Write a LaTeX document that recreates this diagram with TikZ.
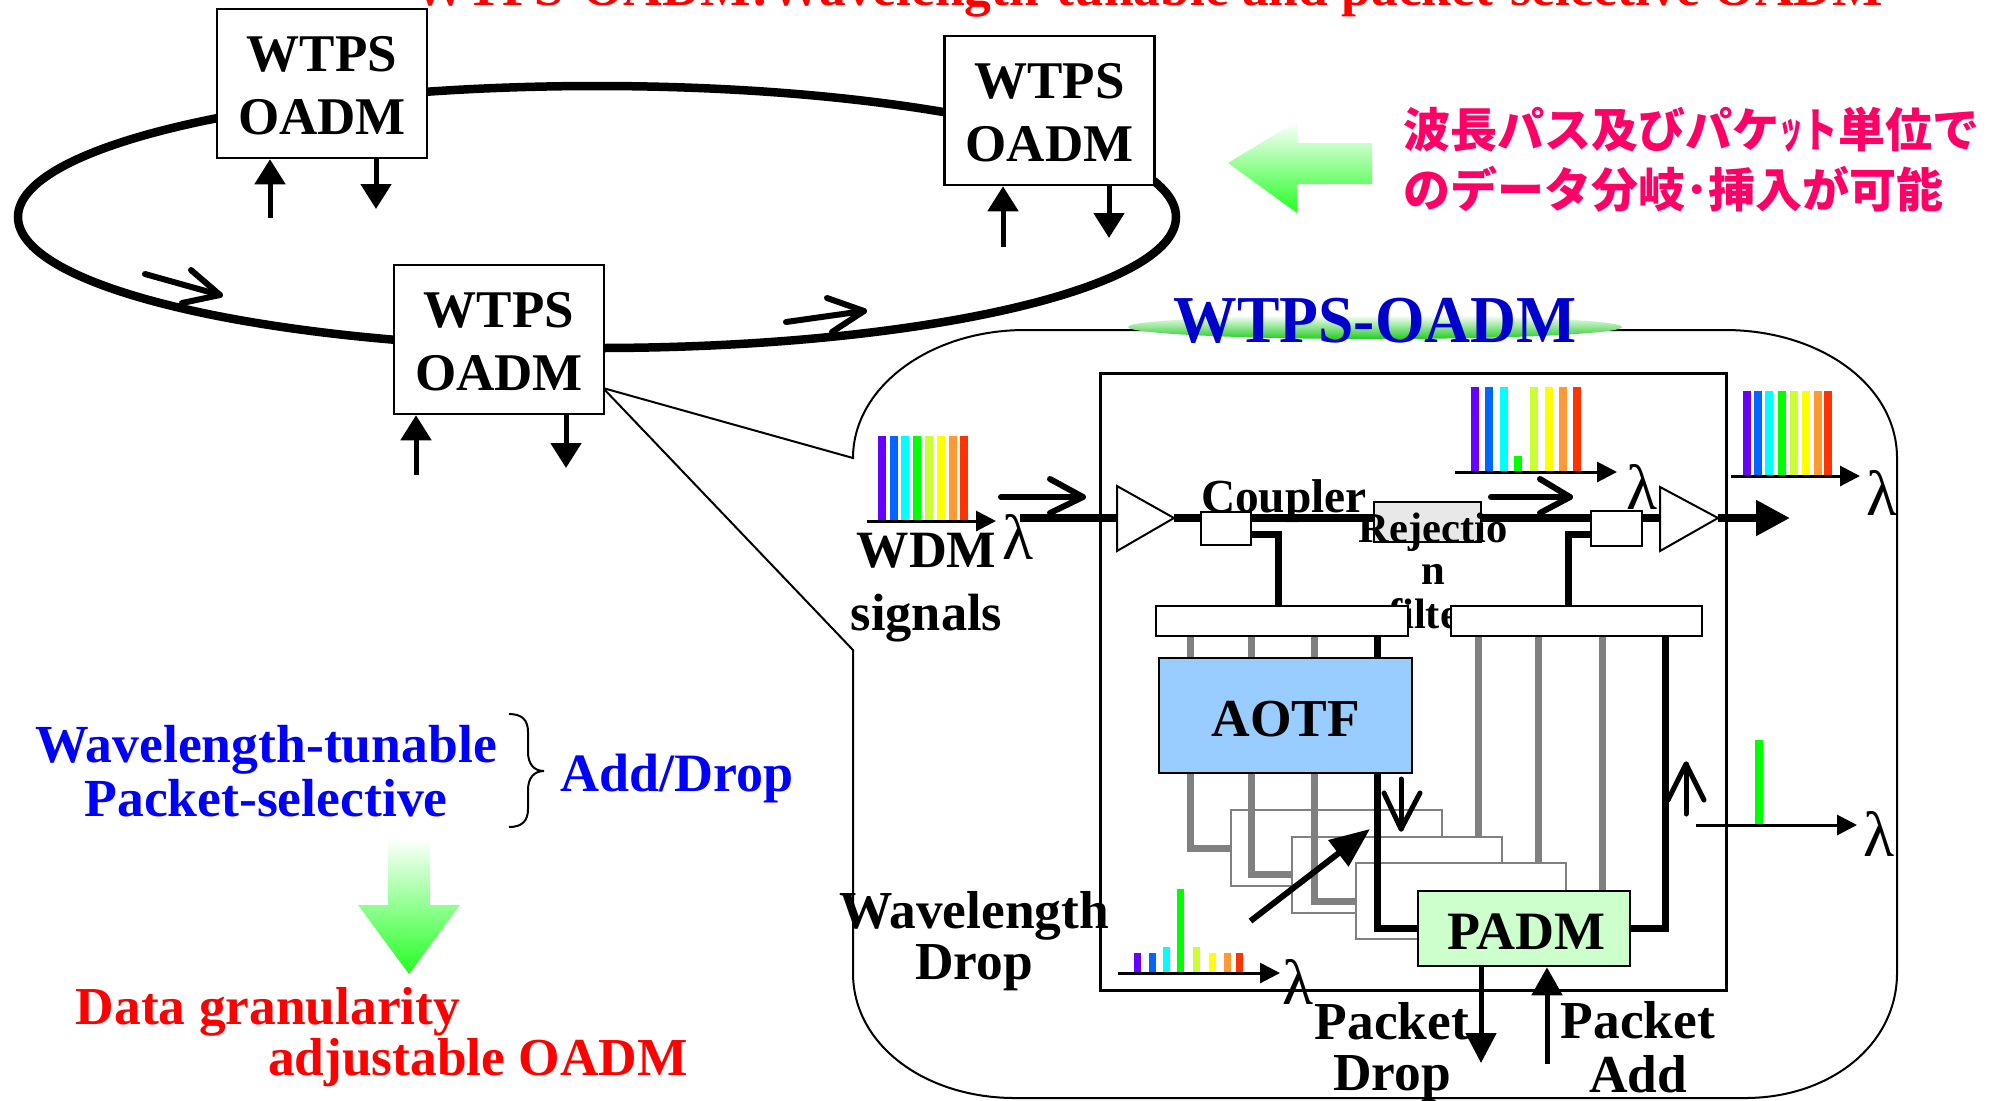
\documentclass[tikz,border=0pt]{standalone}
\usepackage{fontspec}
\usepackage{graphicx}
\setmainfont{Liberation Serif}
\newfontfamily\jpfont{Noto Sans CJK JP}
\usetikzlibrary{arrows.meta,shapes.geometric}
\definecolor{cA}{HTML}{6600FF}\definecolor{cB}{HTML}{0066FF}\definecolor{cC}{HTML}{00FFFF}\definecolor{cD}{HTML}{00FF00}
\definecolor{cE}{HTML}{CCFF33}\definecolor{cF}{HTML}{FFFF00}\definecolor{cG}{HTML}{FF9933}\definecolor{cH}{HTML}{FF3300}
\definecolor{aotfblue}{HTML}{99CCFF}\definecolor{padmgreen}{HTML}{CCFFCC}\definecolor{jppink}{HTML}{FF0066}
\definecolor{rejgray}{HTML}{E8E8E8}\definecolor{pathgray}{HTML}{808080}\definecolor{titleblue}{HTML}{0000CC}
\definecolor{gradgreen}{HTML}{22FF22}\definecolor{pillgreen}{HTML}{22CC22}
\newcommand{\rsfs}[2]{\bfseries\fontsize{#1}{#2}\selectfont}
\newcommand{\rsbx}[6]{\pgfmathsetmacro{\rsbw}{(#4-#2)*0.5}\pgfmathsetmacro{\rsbh}{(#5-#3)*0.5}%
 \node[#6,minimum width=\rsbw pt,minimum height=\rsbh pt] (#1) at ({(#2+#4)/2},{(#3+#5)/2}) {};}
\newcommand{\rsoadm}[3]{\node[oadmbox] (#1) at (#2,#3) {\begin{tabular}{@{}c@{}}\rule{0pt}{28.45pt}WTPS\\\strut OADM\end{tabular}};}
\newcommand{\rsbar}[4]{\fill[#4] ({#1-4},#2) rectangle ({#1+4},#3);}
\newcommand{\rsopen}[9]{\coordinate (#1s) at (#2,#3);\coordinate (#1t) at (#4,#5);\coordinate (#1a) at (#6,#7);\coordinate (#1b) at (#8,#9);
 \draw[openarrow] (#1s) -- (#1t); \draw[openarrow] (#1a) -- (#1t) -- (#1b);}
\tikzset{
 x=0.5pt,y=-0.5pt,
 oadmbox/.style={draw=black,line width=1.25pt,fill=white,minimum width=105pt,minimum height=74.5pt,inner sep=0pt,font=\rsfs{26.5}{31.5}},
 ring/.style={line width=4.25pt,draw=black},
 smallarr/.style={line width=2.5pt,-{Triangle[length=12.5pt,width=15pt]}},
 openarrow/.style={line width=3pt,line cap=round,line join=round},
 thinarrow/.style={line width=2.5pt,line cap=round,line join=round},
 thinline/.style={line width=1pt,draw=black},
 fiber/.style={line width=4pt,draw=black},
 graypath/.style={line width=3.5pt,draw=pathgray,line join=miter},
 blackpath/.style={line width=3.5pt,draw=black,line join=miter},
 plainbox/.style={draw=black,line width=1.25pt,fill=white,inner sep=0pt},
 stackbox/.style={draw=pathgray,line width=1.25pt,fill=white,inner sep=0pt},
 axisarr/.style={line width=1.5pt,-{Triangle[length=10pt,width=10pt]}},
 lab/.style={inner sep=0pt,align=center},
 lam/.style={inner sep=0pt,font=\fontsize{32}{36}\selectfont},
 ampshape/.style={draw=black,line width=1pt,fill=white,line join=miter},
}
\begin{document}
\begin{tikzpicture}
\useasboundingbox (0,0) rectangle (2006,1100);
\fill[white] (0,0) rectangle (2006,1100);
% title
\node[lab,anchor=base,text=red,font=\rsfs{26.7}{30}] (title) at (1148,5) {WTPS-OADM:Wavelength-tunable and packet-selective OADM};
% ring
\draw[ring] (597,217) ellipse [x radius=579,y radius=131];
% callout outline
\coordinate (zoomfrom) at (603,388);
\draw[thinline] (zoomfrom) -- (853,458) .. controls (853,387) and (930,330) .. (1025,330) -- (1725,330)
 .. controls (1820,330) and (1897,385) .. (1897,458) -- (1897,973) .. controls (1897,1045) and (1830,1098) .. (1745,1098)
 -- (1015,1098) .. controls (925,1098) and (853,1045) .. (853,973) -- (853,650) -- (zoomfrom);
% OADM boxes
\rsoadm{oa}{322}{83.5}
\rsoadm{ob}{1049.5}{110.5}
\rsoadm{oc}{499}{339.5}
\coordinate (oain) at (270,218);\coordinate (oaout) at (376,209);
\coordinate (obin) at (1003,247);\coordinate (obout) at (1109,238);
\coordinate (ocin) at (416,475);\coordinate (ocout) at (566,468);
\draw[smallarr] (oain) -- (oain |- oa.south);
\draw[smallarr] (oaout |- oa.south) -- (oaout);
\draw[smallarr] (obin) -- (obin |- ob.south);
\draw[smallarr] (obout |- ob.south) -- (obout);
\draw[smallarr] (ocin) -- (ocin |- oc.south);
\draw[smallarr] (ocout |- oc.south) -- (ocout);
\rsopen{ra}{145}{274}{220}{295}{191}{270}{182}{303}
\rsopen{rb}{786}{322}{864}{311}{827}{298}{832}{332}
% Green left arrow
\path[top color=white,bottom color=gradgreen,draw=none] (1228,163) -- (1297,121) -- (1297,143) -- (1372,143) -- (1372,184) -- (1297,184) -- (1297,213) -- cycle;
\node[inner sep=0pt,align=left,anchor=west,text=jppink,font={\jpfont\bfseries\fontsize{23.5}{28.5}\selectfont}] (jp) at (1403,166) {\strut 波長パス及びパケ\scalebox{0.5}[1]{ッ}\scalebox{0.75}[1]{ト}単位で\\\strut のデータ分岐･挿入が可能};
% Title pill
\node[ellipse,minimum width=247pt,minimum height=12pt,inner sep=0pt,top color=white,bottom color=pillgreen] (pill) at (1375,327) {};
\node[lab,anchor=base,text=titleblue,font=\rsfs{33.5}{40}] (pilltext) at (1375,342) {\scalebox{0.95}[1]{WTPS-OADM}};
% main box
\rsbx{main}{1100}{373}{1726}{990}{draw=black,line width=1.5pt,inner sep=0pt}
% fiber
\coordinate (fin) at (1020,518);\coordinate (a1w) at (1117,518);\coordinate (a1e) at (1174,518);
\coordinate (a2w) at (1660,518);\coordinate (a2e) at (1718,518);\coordinate (fout) at (1790,518);
\rsbx{c1}{1201}{512}{1251}{545}{plainbox}
\rsbx{c2}{1591}{511}{1642}{546}{plainbox}
\rsbx{rej}{1374}{502}{1481}{542}{draw=black,line width=1pt,fill=rejgray,inner sep=0pt}
\draw[fiber] (fin) -- (a1w);
\draw[fiber] (a1e) -- (c1.west |- a1e);
\draw[fiber] (c1.east |- a1e) -- (rej.west |- a1e);
\draw[fiber] (rej.east |- a1e) -- (c2.west |- a1e);
\draw[fiber] (c2.east |- a1e) -- (a2w);
\draw[line width=4pt,-{Triangle[length=17pt,width=17pt]}] (a2e) -- (fout);
\draw[ampshape] (a1w |- 0,486) -- (a1e) -- (a1w |- 0,551) -- cycle;
\draw[ampshape] (a2w |- 0,487) -- (a2e) -- (a2w |- 0,551) -- cycle;
\node[lab,anchor=base,font=\rsfs{23.7}{28}] (coupler) at (1284,512) {Coupler};
\node[lab,font=\rsfs{21.3}{20.75}] (rejtext) at (1433,{544+0.8*41.5}) {\strut Rejectio\\\strut n\\\strut filter};
% demux bars
\rsbx{dl}{1156}{606}{1408}{636}{plainbox}
\rsbx{dr}{1451}{606}{1702}{636}{plainbox}
\draw[blackpath] (c1.east |- 0,534) -| (1278,0 |- dl.north);
\draw[blackpath] (c2.west |- 0,534) -| (1568,0 |- dr.north);
% stacked boxes
\rsbx{sa}{1231}{810}{1442}{886}{stackbox}
\rsbx{sb}{1292}{837}{1502}{913}{stackbox}
\rsbx{sc}{1356}{863}{1566}{939}{stackbox}
\rsbx{aotf}{1159}{658}{1412}{773}{plainbox,fill=aotfblue}
\node[lab,font=\rsfs{26.7}{30}] (aotftext) at (1286,719) {AOTF};
\rsbx{padm}{1418}{891}{1630}{966}{plainbox,fill=padmgreen}
\node[lab,font=\rsfs{27}{30}] (padmtext) at (1526,932) {PADM};
% paths between
\foreach \xx in {1190,1251,1314}{\draw[graypath] (\xx,0 |- dl.south) -- (\xx,0 |- aotf.north);}
\draw[blackpath] (1377,0 |- dl.south) -- (1377,0 |- aotf.north);
\draw[graypath] (1190,0 |- aotf.south) |- (sa.west |- 0,848);
\draw[graypath] (1251,0 |- aotf.south) |- (sb.west |- 0,874);
\draw[graypath] (1314,0 |- aotf.south) |- (sc.west |- 0,901);
\draw[blackpath] (1377.5,0 |- aotf.south) |- (padm.west |- 0,928);
\draw[graypath] (1478,0 |- dr.south) -- (1478,0 |- sb.north);
\draw[graypath] (1538,0 |- dr.south) -- (1538,0 |- sc.north);
\draw[graypath] (1602,0 |- dr.south) -- (1602,0 |- padm.north);
\draw[blackpath] (padm.east |- 0,928) -| (1665,0 |- dr.south);
% open arrows on the fibre
\rsopen{ia}{1001}{497}{1083}{497}{1050}{479}{1050}{513}
\rsopen{ib}{1491}{497}{1570}{497}{1540}{479}{1540}{513}
% internal arrows
\coordinate (da) at (1401,779);\coordinate (db) at (1401,829);\coordinate (da1) at (1384,793);\coordinate (da2) at (1420,793);
\draw[thinarrow] (da) -- (db); \draw[thinarrow] (da1) -- (db) -- (da2);
\coordinate (ua) at (1686,814);\coordinate (ub) at (1686,764);\coordinate (ua1) at (1668,800);\coordinate (ua2) at (1704,800);
\draw[thinarrow] (ua) -- (ub); \draw[thinarrow] (ua1) -- (ub) -- (ua2);
\coordinate (diag1) at (1250.5,921);\coordinate (diag2) at (1370,829);
\draw[line width=3pt,-{Triangle[length=20pt,width=16pt]}] (diag1) -- (diag2);
% packet arrows
\coordinate (pd) at (1481,1063);\coordinate (pa) at (1547,1064);
\draw[line width=2.5pt,-{Triangle[length=15pt,width=15pt]}] (pd |- padm.south) -- (pd);
\draw[line width=2.5pt,-{Triangle[length=14pt,width=15pt]}] (pa) -- (pa |- padm.south);
% spectra
\foreach \xx/\cc in {882/cA,894/cB,905/cC,917/cD,929/cE,941/cF,953/cG,964/cH}{\rsbar{\xx}{436}{521}{\cc}}
\coordinate (s1a) at (867,521);\coordinate (s1b) at (996,521);\draw[axisarr] (s1a) -- (s1b);
\node[lam] (l1) at (1018,537) {λ};
\foreach \xx/\cc in {1475/cA,1489/cB,1504/cC,1534/cE,1549/cF,1563/cG,1577/cH}{\rsbar{\xx}{387}{472}{\cc}}
\rsbar{1518}{456}{472}{cD}
\coordinate (s2a) at (1455,472);\coordinate (s2b) at (1617,472);\draw[axisarr] (s2a) -- (s2b);
\node[lam] (l2) at (1642,487) {λ};
\foreach \xx/\cc in {1747/cA,1758/cB,1769/cC,1782/cD,1794/cE,1806/cF,1818/cG,1828/cH}{\rsbar{\xx}{391}{476}{\cc}}
\coordinate (s3a) at (1731,476);\coordinate (s3b) at (1860,476);\draw[axisarr] (s3a) -- (s3b);
\node[lam] (l3) at (1882,493) {λ};
\foreach \xx/\tp/\cc in {1137/953/cA,1152/953/cB,1166/947/cC,1180/889/cD,1196/947/cE,1212/953/cF,1227/953/cG,1239/953/cH}{\fill[\cc] (\xx-3.5,\tp) rectangle (\xx+3.5,973);}
\coordinate (s4a) at (1118,973);\coordinate (s4b) at (1280,973);\draw[axisarr] (s4a) -- (s4b);
\node[lam] (l4) at (1298,982) {λ};
\rsbar{1758.5}{740}{825}{cD}
\coordinate (s5a) at (1696,825);\coordinate (s5b) at (1857,825);\draw[axisarr] (s5a) -- (s5b);
\node[lam] (l5) at (1879,834) {λ};
% labels
\node[lab,font=\rsfs{26.2}{31.5}] (wdm) at (926.5,{567+0.3*63}) {\strut WDM\\\strut signals};
\node[lab,font=\rsfs{26.7}{25.5}] (wdrop) at (974,{928+0.3*51}) {\strut Wavelength\\\strut Drop};
\node[lab,font=\rsfs{26.7}{25.5}] (pdrop) at (1392,{1039+0.3*51}) {\strut Packet\\\strut Drop};
\node[lab,font=\rsfs{26.7}{25.5}] (padd) at (1638,{1039+0.3*51}) {\strut Packet\\\strut Add};
% left text
\node[lab,text=blue,font=\rsfs{26.8}{25.5}] (feat) at (266,{763+0.3*51}) {\strut Wavelength-tunable\\\strut Packet-selective};
\draw[line width=1pt] (509,714) .. controls (522,714) and (528,720) .. (528,732) -- (528,752) .. controls (528,764) and (534,771) .. (544,771) .. controls (534,771) and (528,778) .. (528,790) -- (528,809) .. controls (528,821) and (522,827) .. (509,827);
\node[lab,anchor=base,text=blue,font=\rsfs{27}{30}] (adddrop) at (677,791) {Add/Drop};
\path[top color=white,bottom color=gradgreen] (388,838) -- (430,838) -- (430,905) -- (460,905) -- (409,974) -- (358,905) -- (388,905) -- cycle;
\node[lab,anchor=base,text=red,font=\rsfs{26.7}{30}] (red1) at (268,1024) {Data granularity};
\node[lab,anchor=base,text=red,font=\rsfs{26.7}{30}] (red2) at (478,1075) {adjustable OADM};
\end{tikzpicture}
\end{document}
